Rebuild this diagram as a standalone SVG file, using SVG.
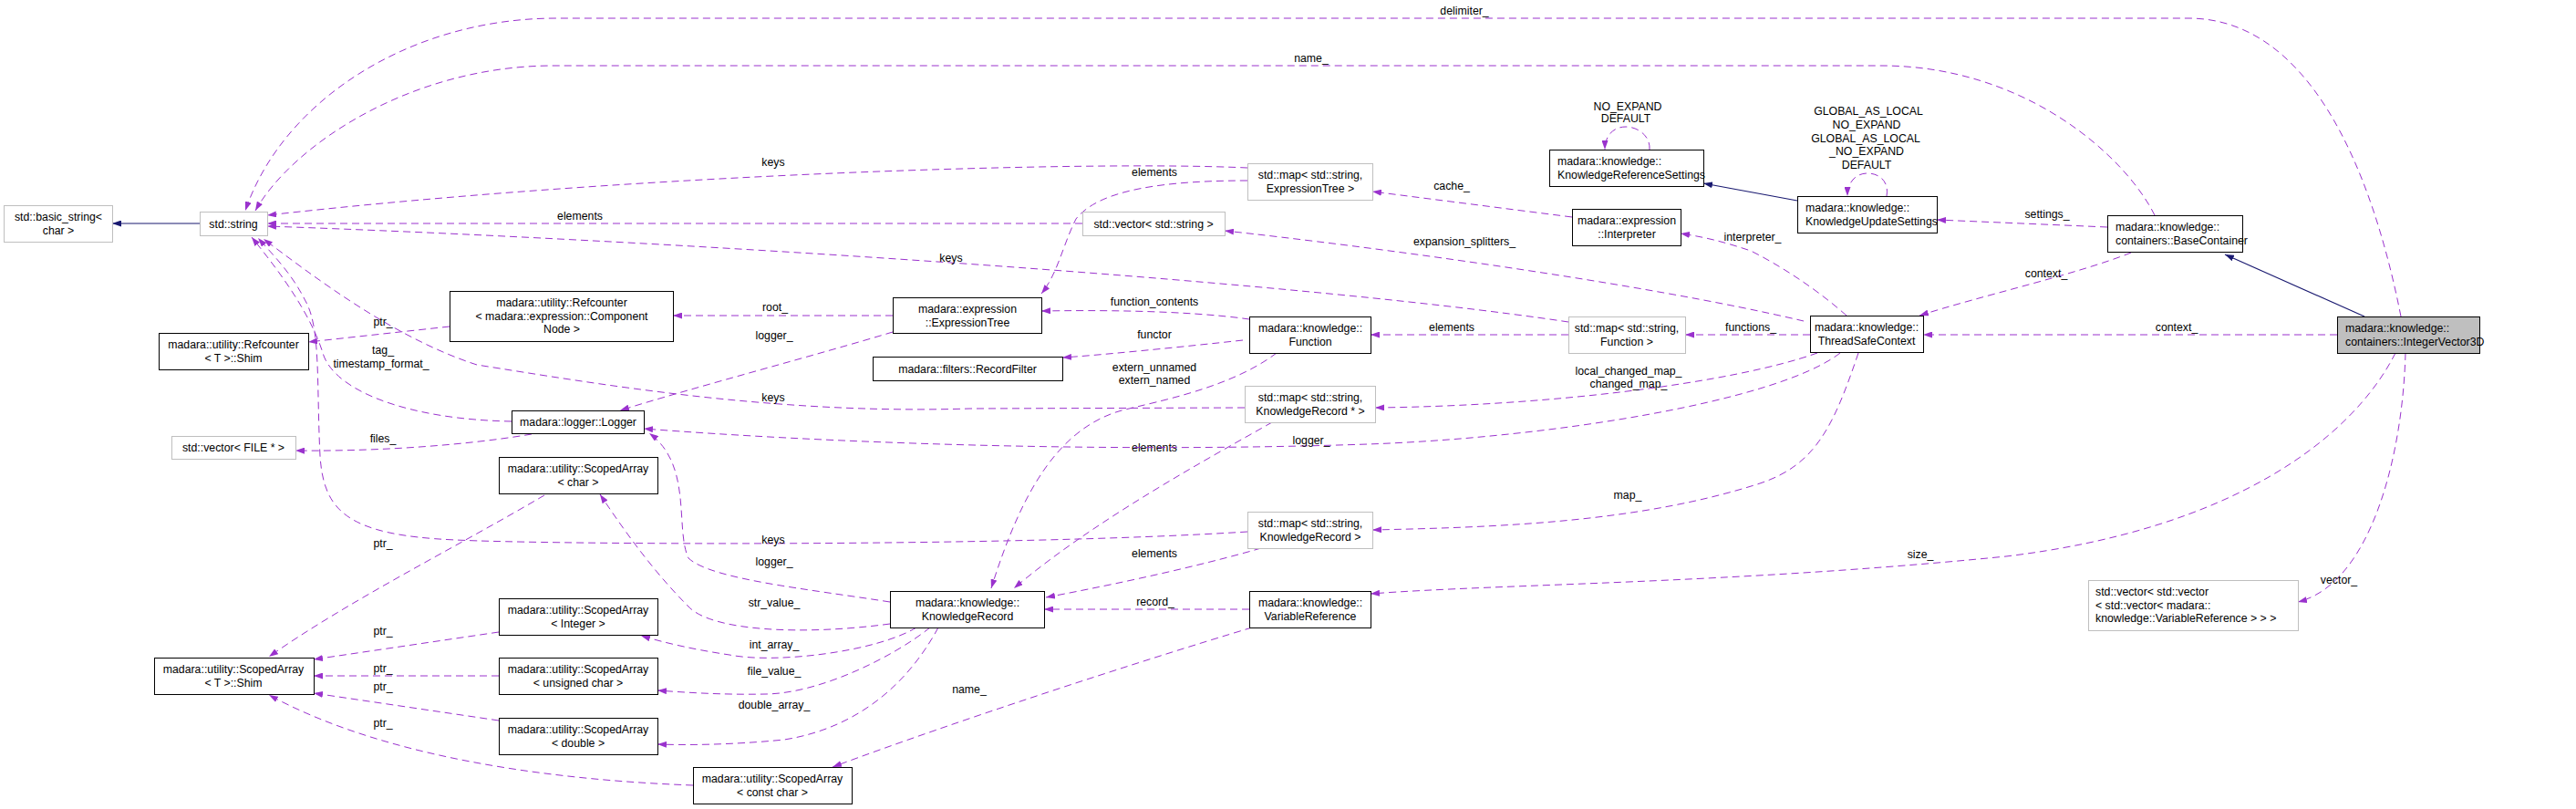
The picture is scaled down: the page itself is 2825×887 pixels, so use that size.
<svg xmlns="http://www.w3.org/2000/svg" width="2825" height="887" viewBox="0 0 2825 887">
<defs>
<style>
text{font-family:"Liberation Sans",Arial,sans-serif;font-size:12.3px;fill:#000}
.c{text-anchor:middle}
.s{text-anchor:start}
.nb{fill:#fff;stroke:#000;stroke-width:1}
.ng{fill:#fff;stroke:#bfbfbf;stroke-width:1}
.nh{fill:#bfbfbf;stroke:#000;stroke-width:1}
.e{fill:none;stroke:#9a32cd;stroke-width:1;stroke-dasharray:8,5;marker-end:url(#ap)}
.i{fill:none;stroke:#191970;stroke-width:1.2;marker-end:url(#an)}
</style>
<marker id="ap" viewBox="0 0 10 7" refX="10" refY="3.5" markerWidth="10" markerHeight="7" orient="auto" markerUnits="userSpaceOnUse"><path d="M0,0L10,3.5L0,7z" fill="#9a32cd"/></marker>
<marker id="an" viewBox="0 0 10 7" refX="10" refY="3.5" markerWidth="10" markerHeight="7" orient="auto" markerUnits="userSpaceOnUse"><path d="M0,0L10,3.5L0,7z" fill="#191970"/></marker>
</defs>
<rect width="2825" height="887" fill="#fff"/>
<g id="connectors">
<path class="i" d="M219,245L123,245"/>
<path class="e" d="M2633,347C2600,180 2530,20 2400,20L610,20C450,20 310,110 269,231"/>
<text class="c" x="1606" y="16">delimiter_</text>
<path class="e" d="M2363,236C2330,170 2220,72 2063,72L607,72C450,72 320,160 280,231"/>
<text class="c" x="1438" y="68">name_</text>
<path class="e" d="M1368,184C1200,176 700,190 293,236"/>
<text class="c" x="848" y="182">keys</text>
<path class="e" d="M1187,245L293,245"/>
<text class="c" x="636" y="241">elements</text>
<path class="e" d="M1720,353C1400,305 700,262 293,248"/>
<text class="c" x="1043" y="287">keys</text>
<path class="e" d="M561,462C450,460 370,430 355,390C340,340 300,290 276,260"/>
<text class="c" x="420" y="388">tag_</text>
<text class="c" x="418" y="403">timestamp_format_</text>
<path class="e" d="M1365,447L1063,448C850,455 650,420 523,400C430,370 340,300 289,262"/>
<text class="c" x="848" y="440">keys</text>
<path class="e" d="M1368,583C1100,600 600,597 500,592C380,587 355,560 351,500C347,420 352,360 335,330C320,300 300,280 283,261"/>
<text class="c" x="848" y="596">keys</text>
<path class="e" d="M493,358L338,375"/>
<text class="c" x="420" y="357">ptr_</text>
<path class="e" d="M583,476C500,490 400,495 324,494"/>
<text class="c" x="420" y="485">files_</text>
<path class="e" d="M597,543C500,600 380,660 295,720"/>
<text class="c" x="420" y="600">ptr_</text>
<path class="e" d="M547,693L344,723"/>
<text class="c" x="420" y="696">ptr_</text>
<path class="e" d="M547,741L344,741"/>
<text class="c" x="420" y="737">ptr_</text>
<path class="e" d="M547,790L344,760"/>
<text class="c" x="420" y="757">ptr_</text>
<path class="e" d="M760,861C600,855 420,830 295,762"/>
<text class="c" x="420" y="797">ptr_</text>
<path class="e" d="M979,346L738,346"/>
<text class="c" x="850" y="341">root_</text>
<path class="e" d="M979,364C900,388 760,425 680,450"/>
<text class="c" x="849" y="372">logger_</text>
<path class="e" d="M976,660C880,645 780,635 755,612C740,580 760,510 712,475"/>
<text class="c" x="849" y="620">logger_</text>
<path class="e" d="M976,684C880,697 780,692 755,665C720,630 690,590 658,542"/>
<text class="c" x="849" y="665">str_value_</text>
<path class="e" d="M1005,688C960,715 850,728 800,718C760,712 730,705 703,697"/>
<text class="c" x="849" y="711">int_array_</text>
<path class="e" d="M1020,688C980,720 900,760 840,761C790,762 750,759 721,757"/>
<text class="c" x="849" y="740">file_value_</text>
<path class="e" d="M1029,688C990,760 930,800 860,811C800,817 750,817 721,816"/>
<text class="c" x="849" y="777">double_array_</text>
<path class="e" d="M1373,688C1250,725 1050,790 913,841"/>
<text class="c" x="1063" y="760">name_</text>
<path class="e" d="M1370,668L1145,668"/>
<text class="c" x="1267" y="664">record_</text>
<path class="e" d="M1383,601C1300,625 1200,645 1147,655"/>
<text class="c" x="1266" y="611">elements</text>
<path class="e" d="M1395,463C1330,500 1200,570 1112,645"/>
<text class="c" x="1266" y="495">elements</text>
<path class="e" d="M1400,387C1350,425 1270,440 1230,450C1160,470 1120,540 1087,645"/>
<text class="c" x="1266" y="407">extern_unnamed</text>
<text class="c" x="1266" y="421">extern_named</text>
<path class="e" d="M1720,367L1503,367"/>
<text class="c" x="1592" y="363">elements</text>
<path class="e" d="M1370,350C1300,340 1200,340 1142,341"/>
<text class="c" x="1266" y="335">function_contents</text>
<path class="e" d="M1363,373C1300,380 1200,390 1165,392"/>
<text class="c" x="1266" y="371">functor</text>
<path class="e" d="M1368,198C1250,198 1200,215 1180,240C1165,270 1160,300 1142,322"/>
<text class="c" x="1266" y="193">elements</text>
<path class="e" d="M1724,238L1505,210"/>
<text class="c" x="1592" y="208">cache_</text>
<path class="e" d="M1978,352C1800,310 1500,270 1343,253"/>
<text class="c" x="1606" y="269">expansion_splitters_</text>
<path class="e" d="M2025,346C1990,315 1950,290 1920,275C1890,265 1870,260 1843,256"/>
<text class="c" x="1922" y="264">interpreter_</text>
<path class="i" d="M1971,220L1868,201"/>
<path class="e" d="M1809,164C1810,148 1795,139 1783,139C1770,139 1760,148 1760,164"/>
<text class="c" x="1785" y="121">NO_EXPAND</text>
<text class="c" x="1783" y="134">DEFAULT</text>
<path class="e" d="M2069,215C2072,198 2060,190 2048,190C2035,190 2026,200 2026,215"/>
<text class="c" x="2049" y="126">GLOBAL_AS_LOCAL</text>
<text class="c" x="2047" y="141">NO_EXPAND</text>
<text class="c" x="2046" y="156">GLOBAL_AS_LOCAL</text>
<text class="c" x="2047" y="170">_NO_EXPAND</text>
<text class="c" x="2047" y="185">DEFAULT</text>
<path class="e" d="M1985,367L1848,367"/>
<text class="c" x="1920" y="363">functions_</text>
<path class="e" d="M1993,387C1900,420 1700,445 1508,447"/>
<text class="c" x="1786" y="411">local_changed_map_</text>
<text class="c" x="1786" y="425">changed_map_</text>
<path class="e" d="M2018,387C1950,440 1700,480 1500,487C1200,497 900,485 706,470"/>
<text class="c" x="1438" y="487">logger_</text>
<path class="e" d="M2038,387C2010,470 1990,510 1930,530C1800,572 1650,578 1505,581"/>
<text class="c" x="1785" y="547">map_</text>
<path class="e" d="M2311,249L2124,241"/>
<text class="c" x="2245" y="239">settings_</text>
<path class="e" d="M2337,277C2280,300 2170,325 2105,346"/>
<text class="c" x="2244" y="304">context_</text>
<path class="e" d="M2563,367L2109,367"/>
<text class="c" x="2387" y="363">context_</text>
<path class="i" d="M2593,347L2440,279"/>
<path class="e" d="M2627,387C2580,480 2450,580 2200,610C1900,640 1650,640 1503,651"/>
<text class="c" x="2106" y="612">size_</text>
<path class="e" d="M2638,387C2635,500 2600,640 2520,660"/>
<text class="c" x="2565" y="640">vector_</text>
</g>
<g id="n_basic_string"><rect class="ng" x="4.5" y="225.5" width="119" height="40"/><text class="c" x="64" y="242">std::basic_string&lt;</text><text class="c" x="64" y="256.5">char &gt;</text></g>
<g id="n_string"><rect class="ng" x="219.5" y="232.5" width="74" height="26"/><text class="c" x="256" y="250">std::string</text></g>
<g id="n_refshim"><rect class="nb" x="174.5" y="365.5" width="164" height="40"/><text class="c" x="256" y="382">madara::utility::Refcounter</text><text class="c" x="256" y="396.5">&lt; T &gt;::Shim</text></g>
<g id="n_vecfile"><rect class="ng" x="188.5" y="478.5" width="136" height="25"/><text class="c" x="256" y="495">std::vector&lt; FILE * &gt;</text></g>
<g id="n_sashim"><rect class="nb" x="169.5" y="721.5" width="175" height="40"/><text class="c" x="256" y="738">madara::utility::ScopedArray</text><text class="c" x="256" y="752.5">&lt; T &gt;::Shim</text></g>
<g id="n_refcn"><rect class="nb" x="493.5" y="319.5" width="245" height="55"/><text class="c" x="616" y="336">madara::utility::Refcounter</text><text class="c" x="616" y="350.5">&lt; madara::expression::Component</text><text class="c" x="616" y="365">Node &gt;</text></g>
<g id="n_logger"><rect class="nb" x="561.5" y="450.5" width="145" height="25"/><text class="c" x="634" y="467">madara::logger::Logger</text></g>
<g id="n_sachar"><rect class="nb" x="547.5" y="501.5" width="174" height="40"/><text class="c" x="634" y="518">madara::utility::ScopedArray</text><text class="c" x="634" y="532.5">&lt; char &gt;</text></g>
<g id="n_saint"><rect class="nb" x="547.5" y="656.5" width="174" height="40"/><text class="c" x="634" y="673">madara::utility::ScopedArray</text><text class="c" x="634" y="687.5">&lt; Integer &gt;</text></g>
<g id="n_sauchar"><rect class="nb" x="547.5" y="721.5" width="174" height="40"/><text class="c" x="634" y="738">madara::utility::ScopedArray</text><text class="c" x="634" y="752.5">&lt; unsigned char &gt;</text></g>
<g id="n_sadouble"><rect class="nb" x="547.5" y="787.5" width="174" height="40"/><text class="c" x="634" y="804">madara::utility::ScopedArray</text><text class="c" x="634" y="818.5">&lt; double &gt;</text></g>
<g id="n_saconst"><rect class="nb" x="760.5" y="841.5" width="174" height="40"/><text class="c" x="847" y="858">madara::utility::ScopedArray</text><text class="c" x="847" y="872.5">&lt; const char &gt;</text></g>
<g id="n_exprtree"><rect class="nb" x="979.5" y="326.5" width="163" height="39"/><text class="c" x="1061" y="343">madara::expression</text><text class="c" x="1061" y="357.5">::ExpressionTree</text></g>
<g id="n_recfilter"><rect class="nb" x="957.5" y="391.5" width="208" height="26"/><text class="c" x="1061" y="409">madara::filters::RecordFilter</text></g>
<g id="n_krecord"><rect class="nb" x="976.5" y="648.5" width="169" height="40"/><text class="c" x="1061" y="665">madara::knowledge::</text><text class="c" x="1061" y="679.5">KnowledgeRecord</text></g>
<g id="n_mapet"><rect class="ng" x="1368.5" y="179.5" width="137" height="40"/><text class="c" x="1437" y="196">std::map&lt; std::string,</text><text class="c" x="1437" y="210.5">ExpressionTree &gt;</text></g>
<g id="n_vecstr"><rect class="ng" x="1187.5" y="232.5" width="156" height="26"/><text class="c" x="1265" y="250">std::vector&lt; std::string &gt;</text></g>
<g id="n_function"><rect class="nb" x="1370.5" y="347.5" width="133" height="40"/><text class="c" x="1437" y="364">madara::knowledge::</text><text class="c" x="1437" y="378.5">Function</text></g>
<g id="n_mapkrp"><rect class="ng" x="1365.5" y="423.5" width="143" height="40"/><text class="c" x="1437" y="440">std::map&lt; std::string,</text><text class="c" x="1437" y="454.5">KnowledgeRecord * &gt;</text></g>
<g id="n_mapkr"><rect class="ng" x="1368.5" y="561.5" width="137" height="40"/><text class="c" x="1437" y="578">std::map&lt; std::string,</text><text class="c" x="1437" y="592.5">KnowledgeRecord &gt;</text></g>
<g id="n_varref"><rect class="nb" x="1370.5" y="648.5" width="133" height="40"/><text class="c" x="1437" y="665">madara::knowledge::</text><text class="c" x="1437" y="679.5">VariableReference</text></g>
<g id="n_krs"><rect class="nb" x="1699.5" y="164.5" width="169" height="40"/><text class="s" x="1708" y="181">madara::knowledge::</text><text class="s" x="1708" y="195.5">KnowledgeReferenceSettings</text></g>
<g id="n_interp"><rect class="nb" x="1724.5" y="229.5" width="119" height="40"/><text class="c" x="1784" y="246">madara::expression</text><text class="c" x="1784" y="260.5">::Interpreter</text></g>
<g id="n_kus"><rect class="nb" x="1971.5" y="215.5" width="153" height="40"/><text class="s" x="1980" y="232">madara::knowledge::</text><text class="s" x="1980" y="246.5">KnowledgeUpdateSettings</text></g>
<g id="n_mapfn"><rect class="ng" x="1720.5" y="347.5" width="128" height="40"/><text class="c" x="1784" y="364">std::map&lt; std::string,</text><text class="c" x="1784" y="378.5">Function &gt;</text></g>
<g id="n_tsc"><rect class="nb" x="1985.5" y="346.5" width="124" height="40"/><text class="c" x="2047" y="363">madara::knowledge::</text><text class="c" x="2047" y="377.5">ThreadSafeContext</text></g>
<g id="n_basecont"><rect class="nb" x="2311.5" y="236.5" width="148" height="40"/><text class="s" x="2320" y="253">madara::knowledge::</text><text class="s" x="2320" y="267.5">containers::BaseContainer</text></g>
<g id="n_iv3d"><rect class="nh" x="2563.5" y="347.5" width="156" height="40"/><text class="s" x="2572" y="364">madara::knowledge::</text><text class="s" x="2572" y="378.5">containers::IntegerVector3D</text></g>
<g id="n_vecvec"><rect class="ng" x="2290.5" y="636.5" width="230" height="55"/><text class="s" x="2298" y="653">std::vector&lt; std::vector</text><text class="s" x="2298" y="667.5">&lt; std::vector&lt; madara::</text><text class="s" x="2298" y="682">knowledge::VariableReference &gt; &gt; &gt;</text></g>
</svg>
